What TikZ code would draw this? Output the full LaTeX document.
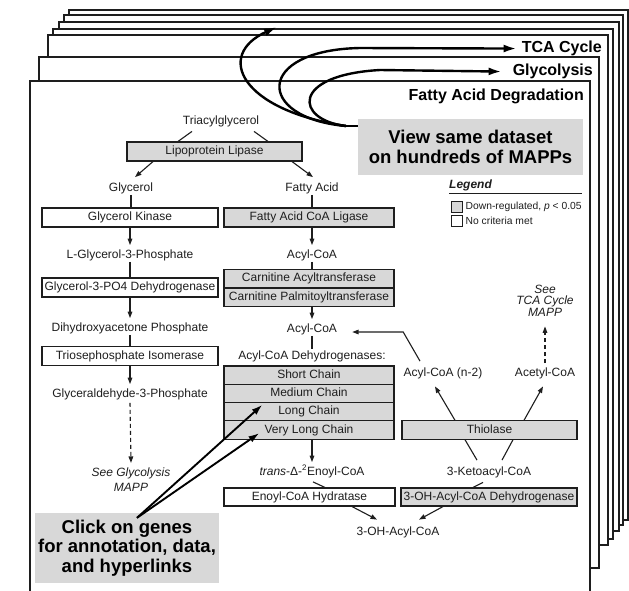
\documentclass[tikz,border=0pt]{standalone}
\usepackage{fontspec}
\setmainfont{Liberation Sans}
\usetikzlibrary{arrows.meta,calc}
\definecolor{boxgray}{RGB}{216,216,216}
\definecolor{ink}{RGB}{30,30,30}
\begin{document}
\begin{tikzpicture}[x=1pt,y=-1pt,
  page/.style={draw=ink, line width=1.2pt, fill=white},
  pagetitle/.style={font=\fontsize{16}{18}\selectfont\bfseries, inner sep=0pt, anchor=base east, text=black},
  txt/.style={font=\fontsize{12}{14}\selectfont, text=ink, inner sep=1pt, text height=8.8pt, text depth=2.6pt},
  itx/.style={font=\fontsize{12}{14}\selectfont\itshape, text=ink, inner sep=0pt, align=center},
  gene/.style={draw=ink, line width=1.1pt, fill=boxgray, font=\fontsize{12}{14}\selectfont, text=ink, inner sep=0pt, minimum height=18.5pt, text height=8.8pt, text depth=2.6pt},
  geneW/.style={gene, fill=white},
  ltxt/.style={font=\fontsize{10.3}{12}\selectfont, text=ink, anchor=west, inner sep=0pt},
  lsq/.style={draw=ink, line width=0.9pt, minimum size=11pt, inner sep=0pt},
  conn/.style={draw=ink, line width=1.1pt},
  arr/.style={conn, -{Triangle[length=6.5pt,width=4.6pt]}},
  darr/.style={arr, dash pattern=on 4pt off 3pt},
  callout/.style={fill=boxgray, font=\bfseries, align=center, inner sep=0pt, text=black},
  bigarr/.style={draw=black, line width=2.4pt, -{Latex[length=13pt,width=8pt]}},
  clickarr/.style={draw=black, line width=1.9pt, -{Latex[length=11pt,width=7pt]}}
]
\useasboundingbox (0,0) rectangle (629,590);

% stacked pages
\draw[page] (69,10) rectangle (628,520);
\draw[page] (64,15) rectangle (623,525);
\draw[page] (59,22) rectangle (619,531);
\draw[page] (53,29) rectangle (613,539);
\draw[page] (48,35) rectangle (608,545);
\draw[page] (39,57) rectangle (599,568);
\draw[page] (30,600) -- (30,81) -- (590,81) -- (590,600);

\node[pagetitle] (tca) at (602,52.7) {TCA Cycle};
\node[pagetitle] (glyc) at (593,75.7) {Glycolysis};
\node[pagetitle] (fad) at (584,100.7) {Fatty Acid Degradation};

% top of pathway
\node[txt] (tag) at (221,121) {Triacylglycerol};
\node[gene, minimum width=175pt, minimum height=19pt] (lpl) at (214.5,151.5) {Lipoprotein Lipase};
\node[txt] (gly) at (131,188) {Glycerol};
\node[txt] (fa) at (312,188) {Fatty Acid};

% left column
\node[geneW, minimum width=176pt, minimum height=19pt] (gk) at (130,217.5) {Glycerol Kinase};
\node[txt] (l3p) at (130,255) {L-Glycerol-3-Phosphate};
\node[geneW, minimum width=176pt, minimum height=19pt] (g3pd) at (130,287.5) {Glycerol-3-PO4 Dehydrogenase};
\node[txt] (dhap) at (130,328) {Dihydroxyacetone Phosphate};
\node[geneW, minimum width=176pt, minimum height=18.5pt] (tpi) at (130,356) {Triosephosphate Isomerase};
\node[txt] (g3p) at (130,394) {Glyceraldehyde-3-Phosphate};
\node[itx, font=\fontsize{12}{15}\selectfont\itshape] (seeg) at (131,480) {See Glycolysis\\MAPP};

% right column
\node[gene, minimum width=170pt, minimum height=19pt] (lig) at (309,217.5) {Fatty Acid CoA Ligase};
\node[txt] (acyl1) at (312,255) {Acyl-CoA};
\node[gene, minimum width=170pt] (cat) at (309,278.75) {Carnitine Acyltransferase};
\node[gene, minimum width=170pt] (cpt) at (309,297.25) {Carnitine Palmitoyltransferase};
\node[txt] (acyl2) at (312,329) {Acyl-CoA};
\node[txt] (acd) at (312,356) {Acyl-CoA Dehydrogenases:};
\node[gene, minimum width=170pt, minimum height=18.3pt] (sc) at (309,375.1) {Short Chain};
\node[gene, minimum width=170pt, minimum height=18.3pt] (mc) at (309,393.4) {Medium Chain};
\node[gene, minimum width=170pt, minimum height=18.3pt] (lc) at (309,411.7) {Long Chain};
\node[gene, minimum width=170pt, minimum height=18.3pt] (vlc) at (309,430) {Very Long Chain};
\node[txt] (enoyl) at (312,472) {{\itshape trans}-Δ-\textsuperscript{2}Enoyl-CoA};
\node[geneW, minimum width=171pt, minimum height=18pt] (ech) at (309.5,497) {Enoyl-CoA Hydratase};
\node[txt] (oh) at (398,532) {3-OH-Acyl-CoA};

% beta-oxidation right part
\node[txt] (acn2) at (443,373) {Acyl-CoA (n-2)};
\node[txt] (acet) at (545,373) {Acetyl-CoA};
\node[itx, font=\fontsize{12}{11.5}\selectfont\itshape] (seetca) at (545,300.5) {See\\TCA Cycle\\MAPP};
\node[gene, minimum width=175pt, minimum height=18.3pt] (thio) at (489.5,430) {Thiolase};
\node[txt] (keto) at (489,472) {3-Ketoacyl-CoA};
\node[gene, minimum width=176pt, minimum height=18pt] (ohd) at (489,497) {3-OH-Acyl-CoA Dehydrogenase};

% legend
\node[font=\fontsize{12}{14}\selectfont\bfseries\itshape, text=ink, anchor=west, inner sep=0pt] (leg) at (449,185) {Legend};
\draw[ink, line width=1.4pt] ($(leg.west)+(0,8.5)$) -- ++(133,0);
\node[lsq, fill=boxgray] (sq1) at (456.5,206.5) {};
\node[ltxt] (lt1) at (465.5,206.5) {Down-regulated, \textit{p} < 0.05};
\node[lsq, fill=white] (sq2) at (456.5,220.5) {};
\node[ltxt] (lt2) at (465.5,220.5) {No criteria met};

% connectors
\draw[conn] ($(tag.south)+(-29,3.5)$) -- ($(lpl.north)+(-36.5,0)$);
\draw[conn] ($(tag.south)+(33,3.5)$) -- ($(lpl.north)+(53.5,0)$);
\draw[arr] ($(lpl.south)+(-61.5,0)$) -- ($(gly.north)+(4,-4)$);
\draw[arr] ($(lpl.south)+(77.5,0)$) -- ($(fa.north)+(1,-4)$);

\draw[conn] (gly.south) -- (gly.south |- gk.north);
\draw[arr, shorten >=3pt] (gk.south -| l3p) -- (l3p.north);
\draw[conn] (l3p.south) -- (l3p.south |- g3pd.north);
\draw[arr, shorten >=3pt] (g3pd.south -| dhap) -- (dhap.north);
\draw[conn] (dhap.south) -- (dhap.south |- tpi.north);
\draw[arr, shorten >=3pt] (tpi.south -| g3p) -- (g3p.north);
\draw[darr] ($(g3p.south)+(0,2)$) -- ($(seeg.north)+(0,-5)$);

\draw[conn] (fa.south) -- (fa.south |- lig.north);
\draw[arr, shorten >=3pt] (lig.south -| acyl1) -- (acyl1.north);
\draw[conn] (acyl1.south) -- (acyl1.south |- cat.north);
\draw[arr, shorten >=3pt] (cpt.south -| acyl2) -- (acyl2.north);
\draw[conn] (acyl2.south) -- (acyl2.south |- acd.north);
\draw[arr, shorten >=3pt] (vlc.south -| enoyl) -- (enoyl.north);
\draw[conn] ($(enoyl.south)+(1,3)$) -- ($(ech.north)+(15.5,0)$);
\draw[arr] ($(ech.south)+(42.5,0)$) -- ($(oh.north)+(-21,-5.5)$);
\draw[arr] ($(ohd.south)+(-46,0)$) -- ($(oh.north)+(21,-5.5)$);
\draw[conn] ($(keto.south)+(-6,3.5)$) -- ($(ohd.north)+(-16,0)$);
\draw[conn] ($(keto.north)+(-12,-5)$) -- ($(thio.south)+(-24.5,0)$);
\draw[conn] ($(keto.north)+(13,-5)$) -- ($(thio.south)+(23.5,0)$);
\draw[arr] ($(thio.north)+(-34.5,0)$) -- ($(acn2.south)+(-8,6.5)$);
\draw[arr] ($(thio.north)+(34.5,0)$) -- ($(acet.south)+(-2,6.5)$);
\draw[arr] ($(acn2.north)+(-23,-5)$) -- ($(acyl2.east)+(65,3)$) -- ($(acyl2.east)+(14,3)$);
\draw[darr] ($(acet.north)+(0,-3)$) -- ($(seetca.south)+(0,10)$);

% callouts
\node[callout, minimum width=225pt, minimum height=56pt, font=\fontsize{18.5}{20.5}\selectfont\bfseries] (view) at (470.5,147) {View same dataset\\on hundreds of MAPPs};
\node[callout, minimum width=184pt, minimum height=70pt, font=\fontsize{18.5}{19.5}\selectfont\bfseries] (click) at (127,548) {Click on genes\\for annotation, data,\\and hyperlinks};

% big curved arrows
\coordinate (J) at (346,126);
\coordinate (toppage) at (277,27);
\draw[draw=black, line width=2.4pt] ($(view.west)+(0,-21)$) -- (J);
\draw[bigarr] (J) .. controls (240,110) and (215,55) .. (toppage);
\draw[bigarr] (J) .. controls (255,118) and (255,50) .. (360,48) -- ($(tca.west)+(-5,0)$);
\draw[bigarr] (J) .. controls (295,120) and (290,75) .. (380,70) -- ($(glyc.west)+(-11,0)$);

% click arrows
\draw[clickarr] ($(click.north)+(10,5)$) -- ($(lc.west)+(39,-7)$);
\draw[clickarr] ($(click.north)+(10,5)$) -- ($(vlc.west)+(36,3)$);
\end{tikzpicture}
\end{document}
